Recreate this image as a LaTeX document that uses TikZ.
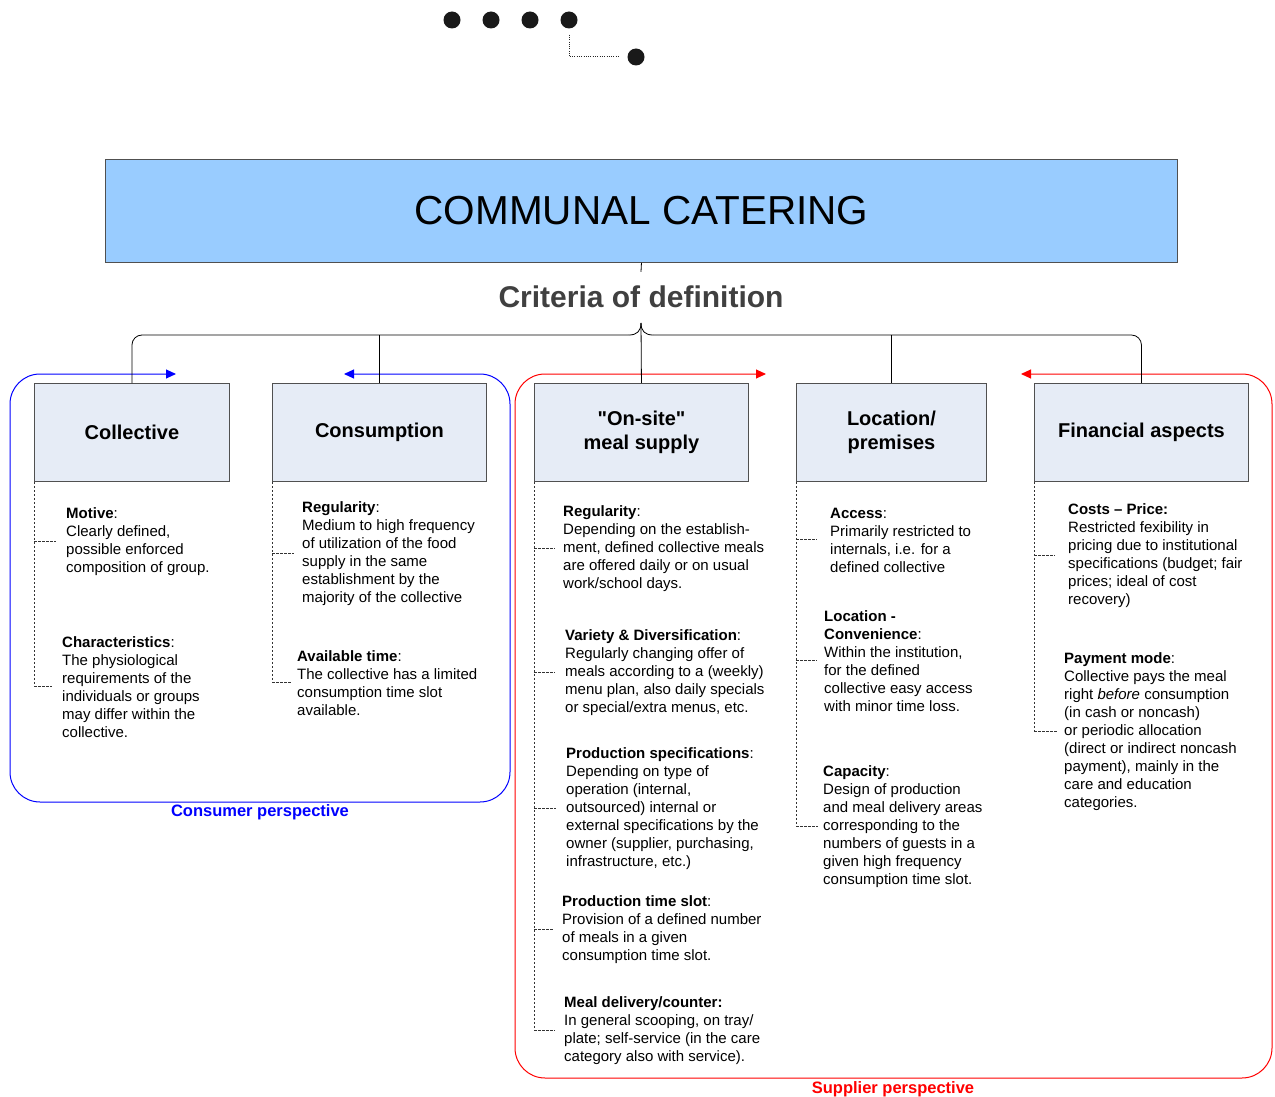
\documentclass[tikz,border=0pt]{standalone}
\usepackage{fontspec}
\setmainfont{Liberation Sans}[Ligatures=TeXOff]
\usetikzlibrary{arrows.meta}
\definecolor{titlefill}{RGB}{153,204,255}
\definecolor{boxfill}{RGB}{230,236,246}
\definecolor{boxline}{RGB}{80,80,80}
\definecolor{critgray}{RGB}{64,64,64}
\definecolor{persblue}{RGB}{0,0,255}
\definecolor{persred}{RGB}{255,0,0}
% dashed stub from a category's spine to one of its items
\newcommand\itemstub[3]{\draw[dashline] (#1.south west |- #2.west) -- ([xshift=-#3pt]#2.west);}
\begin{document}
\begin{tikzpicture}[x=1pt,y=-1pt,
  dot/.style={circle,fill=black!90,minimum size=17pt,inner sep=0},
  catbox/.style={draw=boxline,fill=boxfill,line width=0.9pt,minimum width=#1,minimum height=98pt,
    anchor=north west,inner sep=0,font=\fontsize{20}{24}\selectfont\bfseries,align=center},
  item/.style={anchor=north west,inner sep=0,align=left,font=\fontsize{15}{18}\selectfont},
  dashline/.style={draw=black!80,line width=0.6pt,dash pattern=on 2.5pt off 1.5pt},
  dotline/.style={draw=black!85,line width=1pt,dash pattern=on 1pt off 1.3pt},
  tree/.style={draw=black,line width=0.8pt},
  persp/.style={line width=1pt,rounded corners=30pt,
    {Triangle[length=10pt,width=9pt]}-{Triangle[length=10pt,width=9pt]}},
  persplabel/.style={font=\fontsize{16.5}{20}\selectfont\bfseries},
]
\useasboundingbox (0,0) rectangle (1275,1097);

% ---- dots at the top ----
\node[dot] (d1) at (452,20) {};
\node[dot] (d2) at (491,20) {};
\node[dot] (d3) at (530,20) {};
\node[dot] (d4) at (569,20) {};
\node[dot] (d5) at (636,57) {};
\draw[dotline,shorten <=6pt,shorten >=9pt] (d4.south) |- (d5.west);

% ---- title ----
\node[draw=boxline,fill=titlefill,line width=0.9pt,minimum width=1072pt,minimum height=103pt,
  anchor=north west,inner sep=0,font=\fontsize{40.5}{48}\selectfont] (title) at (105,159) {COMMUNAL CATERING};
\node[font=\fontsize{30}{36}\selectfont\bfseries,text=critgray,inner xsep=0,inner ysep=14pt]
  (crit) at (641,297) {Criteria of definition};

% ---- perspective frames ----
\draw[persp,persblue] (176,374) -- (10,374) -- (10,802) -- (510,802) -- (510,374) -- (344,374);
\draw[persp,persred] (766,374) -- (515,374) -- (515,1078) -- (1272,1078) -- (1272,374) -- (1021,374);
\node[persplabel,text=persblue] (consp) at (260,812) {Consumer perspective};
\node[persplabel,text=persred] (supp) at (893,1089) {Supplier perspective};

% ---- category boxes ----
\node[catbox=195pt] (coll) at (34,383) {Collective};
\node[catbox=214pt] (cons) at (272,383) {Consumption};
\node[catbox=214pt] (onsite) at (534,383) {"On-site"\\meal supply};
\node[catbox=190pt] (loc) at (796,383) {Location/\\premises};
\node[catbox=214pt] (fin) at (1034,383) {Financial aspects};

% ---- tree of connectors ----
\coordinate (hub) at (641,323);
\coordinate (bar) at (0,335);
\draw[tree] (title.south) -- (crit.north);
\draw[tree] (hub) -- (onsite.north);
\draw[tree,rounded corners=10pt] (coll.north) -- (coll.north |- bar) -- (629,335);
\draw[tree] (629,335) .. controls (637,335) and (641,331) .. (hub);
\draw[tree] (hub) .. controls (641,331) and (645,335) .. (653,335);
\draw[tree,rounded corners=10pt] (653,335) -- (fin.north |- bar) -- (fin.north);
\draw[tree] (cons.north) -- (cons.north |- bar);
\draw[tree] (loc.north) -- (loc.north |- bar);

% ---- Collective ----
\node[item] (motive) at (66,506) {\strut\textbf{Motive}:\\Clearly defined,\\possible enforced\\composition of group.};
\node[item] (charac) at (62,635) {\strut\textbf{Characteristics}:\\The physiological\\requirements of the\\individuals or groups\\may differ within the\\collective.};
\draw[dashline] (coll.south west) -- (coll.south west |- charac.west);
\itemstub{coll}{motive}{10}
\itemstub{coll}{charac}{10}

% ---- Consumption ----
\node[item] (creg) at (302,500) {\strut\textbf{Regularity}:\\Medium to high frequency\\of utilization of the food\\supply in the same\\establishment by the\\majority of the collective};
\node[item] (avail) at (297,649) {\strut\textbf{Available time}:\\The collective has a limited\\consumption time slot\\available.};
\draw[dashline] (cons.south west) -- (cons.south west |- avail.west);
\itemstub{cons}{creg}{8}
\itemstub{cons}{avail}{5}

% ---- On-site meal supply ----
\node[item] (oreg) at (563,504) {\strut\textbf{Regularity}:\\Depending on the establish-\\ment, defined collective meals\\are offered daily or on usual\\work/school days.};
\node[item] (variety) at (565,628) {\strut\textbf{Variety \& Diversification}:\\Regularly changing offer of\\meals according to a (weekly)\\menu plan, also daily specials\\or special/extra menus, etc.};
\node[item] (prodspec) at (566,746) {\strut\textbf{Production specifications}:\\Depending on type of\\operation (internal,\\outsourced) internal or\\external specifications by the\\owner (supplier, purchasing,\\infrastructure, etc.)};
\node[item] (prodtime) at (562,894) {\strut\textbf{Production time slot}:\\Provision of a defined number\\of meals in a given\\consumption time slot.};
\node[item] (delivery) at (564,995) {\strut\textbf{Meal delivery/counter:}\\In general scooping, on tray/\\plate; self-service (in the care\\category also with service).};
\draw[dashline] (onsite.south west) -- (onsite.south west |- delivery.west);
\itemstub{onsite}{oreg}{8}
\itemstub{onsite}{variety}{10}
\itemstub{onsite}{prodspec}{10}
\itemstub{onsite}{prodtime}{8}
\itemstub{onsite}{delivery}{9}

% ---- Location / premises ----
\node[item] (access) at (830,506) {\strut\textbf{Access}:\\Primarily restricted to\\internals, i.e. for a\\defined collective};
\node[item] (conv) at (824,609) {\strut\textbf{Location -}\\\textbf{Convenience}:\\Within the institution,\\for the defined\\collective easy access\\with minor time loss.};
\node[item] (capacity) at (823,764) {\strut\textbf{Capacity}:\\Design of production\\and meal delivery areas\\corresponding to the\\numbers of guests in a\\given high frequency\\consumption time slot.};
\draw[dashline] (loc.south west) -- (loc.south west |- capacity.west);
\itemstub{loc}{access}{13}
\itemstub{loc}{conv}{7}
\itemstub{loc}{capacity}{5}

% ---- Financial aspects ----
\node[item] (costs) at (1068,502) {\strut\textbf{Costs – Price:}\\Restricted fexibility in\\pricing due to institutional\\specifications (budget; fair\\prices; ideal of cost\\recovery)};
\node[item] (payment) at (1064,651) {\strut\textbf{Payment mode}:\\Collective pays the meal\\right \textit{before} consumption\\(in cash or noncash)\\or periodic allocation\\(direct or indirect noncash\\payment), mainly in the\\care and education\\categories.};
\draw[dashline] (fin.south west) -- (fin.south west |- payment.west);
\itemstub{fin}{costs}{13}
\itemstub{fin}{payment}{6}
\end{tikzpicture}
\end{document}
